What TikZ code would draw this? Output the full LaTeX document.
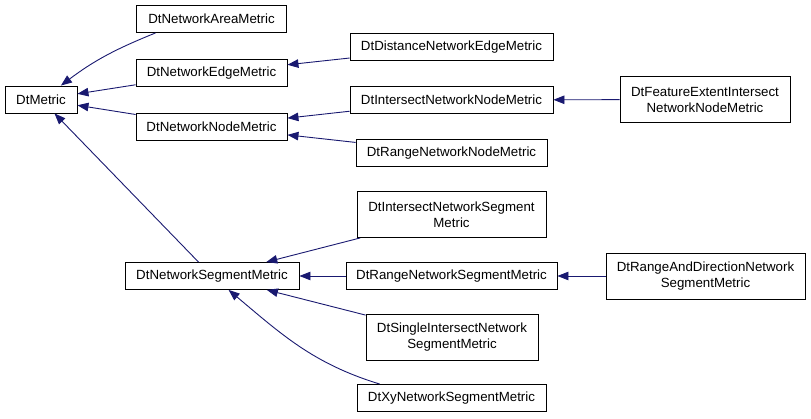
\documentclass[tikz,border=0pt]{standalone}
\usepackage{fontspec}
\setmainfont{Liberation Sans}
\usetikzlibrary{arrows.meta}
\definecolor{edgeblue}{RGB}{25,25,112}
\begin{document}
\begin{tikzpicture}[x=1pt,y=1pt,
  every node/.style={draw,rectangle,line width=0.9pt,fill=white,inner sep=0pt,align=center,
    minimum height=27pt,font=\fontsize{13.3}{16}\selectfont},
  tall/.style={minimum height=46pt},
  inherit/.style={draw=edgeblue,line width=0.9pt,-{Triangle[length=11pt,width=8.5pt]}}]
\useasboundingbox (0,0) rectangle (811,-419);
\node[minimum width=72pt] (metric) at (41,-99.5) {DtMetric};
\node[minimum width=150pt] (area) at (211.5,-19) {DtNetworkAreaMetric};
\node[minimum width=151pt] (edge) at (211.5,-73) {DtNetworkEdgeMetric};
\node[minimum width=151pt] (nodem) at (211.5,-126.5) {DtNetworkNodeMetric};
\node[minimum width=174pt] (segment) at (212,-276) {DtNetworkSegmentMetric};
\node[minimum width=203pt] (distance) at (451.5,-47) {DtDistanceNetworkEdgeMetric};
\node[minimum width=203pt] (isectnode) at (451.5,-100) {DtIntersectNetworkNodeMetric};
\node[minimum width=191pt] (rangenode) at (451.5,-153) {DtRangeNetworkNodeMetric};
\node[tall,minimum width=170pt] (extent) at (705,-99.5) {DtFeatureExtentIntersect\\NetworkNodeMetric};
\node[tall,minimum width=189pt] (isectseg) at (451.5,-214.5) {DtIntersectNetworkSegment\\Metric};
\node[minimum width=211pt] (rangeseg) at (451.5,-276) {DtRangeNetworkSegmentMetric};
\node[tall,minimum width=199pt] (rangedir) at (705.5,-276) {DtRangeAndDirectionNetwork\\SegmentMetric};
\node[tall,minimum width=172pt] (single) at (452,-337) {DtSingleIntersectNetwork\\SegmentMetric};
\node[minimum width=189pt] (xy) at (451.5,-398) {DtXyNetworkSegmentMetric};
\draw[inherit] (area.194) to[out=202,in=37] (metric.35);
\draw[inherit] (edge) -- (metric);
\draw[inherit] (nodem) -- (metric);
\draw[inherit] (segment) -- (metric);
\draw[inherit] (distance) -- (edge);
\draw[inherit] (isectnode) -- (nodem);
\draw[inherit] (rangenode) -- (nodem);
\draw[inherit] (extent) -- (isectnode);
\draw[inherit] (isectseg) -- (segment);
\draw[inherit] (rangeseg) -- (segment);
\draw[inherit] (rangedir) -- (rangeseg);
\draw[inherit] (single) -- (segment);
\draw[inherit] (xy.169) to[out=163,in=-40] (segment.320);
\end{tikzpicture}
\end{document}
